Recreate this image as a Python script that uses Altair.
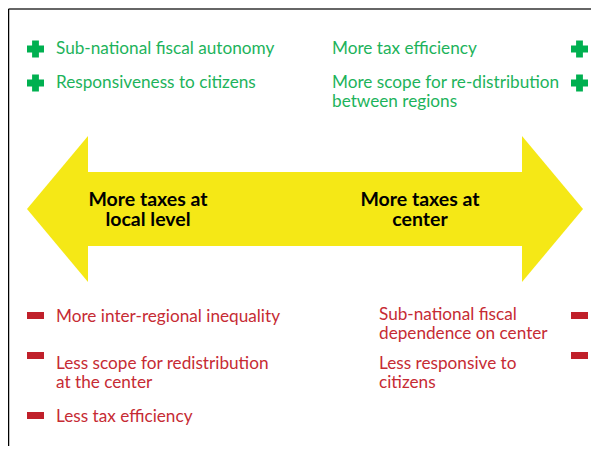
import altair as alt
import pandas as pd

# ---- content ----
pro_left = ["Sub-national fiscal autonomy", "Responsiveness to citizens"]
pro_right = ["More tax efficiency", "More scope for re-distribution\nbetween regions"]
con_left = ["More inter-regional inequality", "Less scope for redistribution\nat the center", "Less tax efficiency"]
con_right = ["Sub-national fiscal\ndependence on center", "Less responsive to\ncitizens"]
arrow_labels = ["More taxes at\nlocal level", "More taxes at\ncenter"]

# ---- layout (page pixel coordinates) ----
pro_y = [47, 81]
con_left_text_y = [315, 362, 415]
con_right_text_y = [313, 362]
arrow_label_x = [148, 420]
arrow_label_y = 199

# arrow geometry
head_left_x = [27, 88]
head_right_x = [522, 583]
head_top = [136]
head_bot = [282]
tip_y = 209
shaft = {"x": 88, "x2": 522, "top": 172, "bot": 246}

GREEN_TXT = "#1DB35B"
GREEN_ICON = "#00B050"
RED_TXT = "#C62B34"
RED_ICON = "#C0202A"
YELLOW = "#F5E816"
FONT = "Lato"
FS = 17.2
FS_B = 19.5

W, H = 583, 438
xs = alt.Scale(domain=[8, 8 + W], nice=False, zero=False)
ys = alt.Scale(domain=[8, 8 + H], nice=False, zero=False, reverse=True)
X = lambda f: alt.X(f, type="quantitative", scale=xs, axis=None)
Y = lambda f: alt.Y(f, type="quantitative", scale=ys, axis=None)

left_df = pd.DataFrame({"x": head_left_x, "top": [tip_y, head_top[0]], "bot": [tip_y, head_bot[0]]})
right_df = pd.DataFrame({"x": head_right_x, "top": [head_top[0], tip_y], "bot": [head_bot[0], tip_y]})
shaft_df = pd.DataFrame([shaft])

left_head = alt.Chart(left_df).mark_area(color=YELLOW, opacity=1).encode(
    x=X("x"), y=Y("top"), y2="bot"
)
right_head = alt.Chart(right_df).mark_area(color=YELLOW, opacity=1).encode(
    x=X("x"), y=Y("top"), y2="bot"
)
shaft_rect = alt.Chart(shaft_df).mark_rect(color=YELLOW).encode(
    x=X("x"), x2="x2", y=Y("top"), y2="bot"
)

arrow_txt_df = pd.DataFrame({"x": arrow_label_x, "y": [arrow_label_y] * 2, "t": arrow_labels})
arrow_txt = alt.Chart(arrow_txt_df).mark_text(
    font=FONT, fontSize=FS_B, fontWeight="bold", color="black", align="center",
    baseline="top", lineBreak="\n", lineHeight=20, dy=-0.39 * FS_B
).encode(x=X("x"), y=Y("y"), text="t:N")

pro_df = pd.DataFrame({
    "x": [56, 56, 332, 332],
    "y": pro_y + pro_y,
    "t": pro_left + pro_right,
})
pro_txt = alt.Chart(pro_df).mark_text(
    font=FONT, fontSize=FS, color=GREEN_TXT, align="left", baseline="top",
    lineBreak="\n", lineHeight=19, dy=-0.39 * FS
).encode(x=X("x"), y=Y("y"), text="t:N")

cross_df = pd.DataFrame({"x": [35.5, 35.5, 579.5, 579.5], "y": [49, 83, 49, 83]})
crosses = alt.Chart(cross_df).mark_point(
    shape="cross", filled=True, size=289, color=GREEN_ICON, opacity=1, strokeWidth=0
).encode(x=X("x"), y=Y("y"))

minus_df = pd.DataFrame({
    "x": [27, 27, 27, 571, 571],
    "x2": [44, 44, 44, 588, 588],
    "y": [312, 352, 412, 312, 352],
    "y2": [319, 359, 419, 319, 359],
})
minus = alt.Chart(minus_df).mark_rect(color=RED_ICON).encode(
    x=X("x"), x2="x2", y=Y("y"), y2="y2"
)

con_df = pd.DataFrame({
    "x": [56, 56, 56, 379, 379],
    "y": con_left_text_y + con_right_text_y,
    "t": con_left + con_right,
})
con_txt = alt.Chart(con_df).mark_text(
    font=FONT, fontSize=FS, color=RED_TXT, align="left", baseline="top",
    lineBreak="\n", lineHeight=19, dy=-0.39 * FS
).encode(x=X("x"), y=Y("y"), text="t:N")

frame_df = pd.DataFrame({"x": [8.5], "y": [9], "x2": [597], "y2": [454]})
top_line = alt.Chart(frame_df).mark_rule(color="#666666", strokeWidth=2).encode(
    x=X("x"), x2="x2", y=Y("y")
)
left_line = alt.Chart(frame_df).mark_rule(color="#000000", strokeWidth=1.5).encode(
    x=X("x"), y=Y("y"), y2="y2"
)

chart = alt.layer(
    left_head, right_head, shaft_rect, arrow_txt, pro_txt, crosses, minus, con_txt,
    top_line, left_line
).properties(
    width=W, height=H, padding=0, autosize=alt.AutoSizeParams(type="none"),
    background="white"
).configure_view(stroke=None)

chart.save("out.html", embed_options={"renderer": "svg", "actions": False})
